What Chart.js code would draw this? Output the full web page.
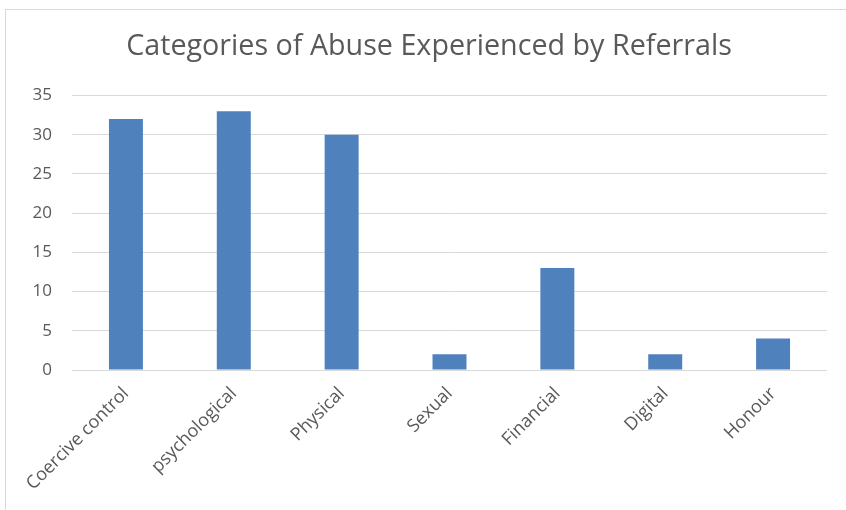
<!DOCTYPE html>
<html lang="en">
<head>
    <meta charset="UTF-8">
    <title>Categories of Abuse Experienced by Referrals</title>
    <script src="https://cdn.jsdelivr.net/npm/chart.js@4.4.1/dist/chart.umd.min.js"></script>
    <style>
        body { margin: 0; background: #fff; overflow: hidden; }
        #frame { position: absolute; left: 5px; top: 9px; width: 900px; height: 600px; border: 1px solid #d9d9d9; }
        #chart-container { position: absolute; left: 0; top: 0; width: 846px; height: 510px; }
    </style>
</head>
<body>
<!--            CHART BOX            -->
<div id="frame"></div>
<div id="chart-container">
    <canvas id="chartCanvas"></canvas>
</div>

<script>
    // data
    const categories = ['Coercive control', 'psychological', 'Physical', 'Sexual', 'Financial', 'Digital', 'Honour'];
    const referrals = [32, 33, 30, 2, 13, 2, 4];
    const yTicks = [0, 5, 10, 15, 20, 25, 30, 35];

    const textColor = '#595959';
    const fontFamily = "'Open Sans', 'Noto Sans', sans-serif";

    const ctx = document.getElementById('chartCanvas').getContext('2d');
    const myChart = new Chart(ctx, {
        type: 'bar',
        data: {
            labels: categories,
            datasets: [{
                label: 'Referrals',
                data: referrals,
                backgroundColor: '#4f81bd',
                borderWidth: 0,
                barPercentage: 0.315,
                categoryPercentage: 1
            }]
        },
        options: {
            responsive: true,
            maintainAspectRatio: false,
            animation: false,
            layout: { padding: { left: 31, right: 19, top: 10, bottom: 0 } },
            plugins: {
                legend: { display: false },
                tooltip: { enabled: false },
                title: {
                    display: true,
                    text: 'Categories of Abuse Experienced by Referrals',
                    color: textColor,
                    font: { family: fontFamily, size: 28.7, weight: 'normal' },
                    padding: { top: 20, bottom: 31 }
                }
            },
            scales: {
                x: {
                    grid: { display: false },
                    border: { display: false },
                    ticks: {
                        color: textColor,
                        font: { family: fontFamily, size: 18 },
                        minRotation: 45,
                        maxRotation: 45,
                        padding: 5
                    },
                    afterFit: function(scale) { scale.height = 140; }
                },
                y: {
                    min: 0,
                    max: 35,
                    afterBuildTicks: function(scale) {
                        scale.ticks = yTicks.map(v => ({ value: v }));
                    },
                    grid: { color: '#d9d9d9', lineWidth: 1, drawTicks: false },
                    border: { display: false },
                    ticks: {
                        color: textColor,
                        font: { family: fontFamily, size: 17 },
                        padding: 20
                    },
                    afterFit: function(scale) { scale.width = 41; }
                }
            }
        }
    });
</script>
</body>
</html>
